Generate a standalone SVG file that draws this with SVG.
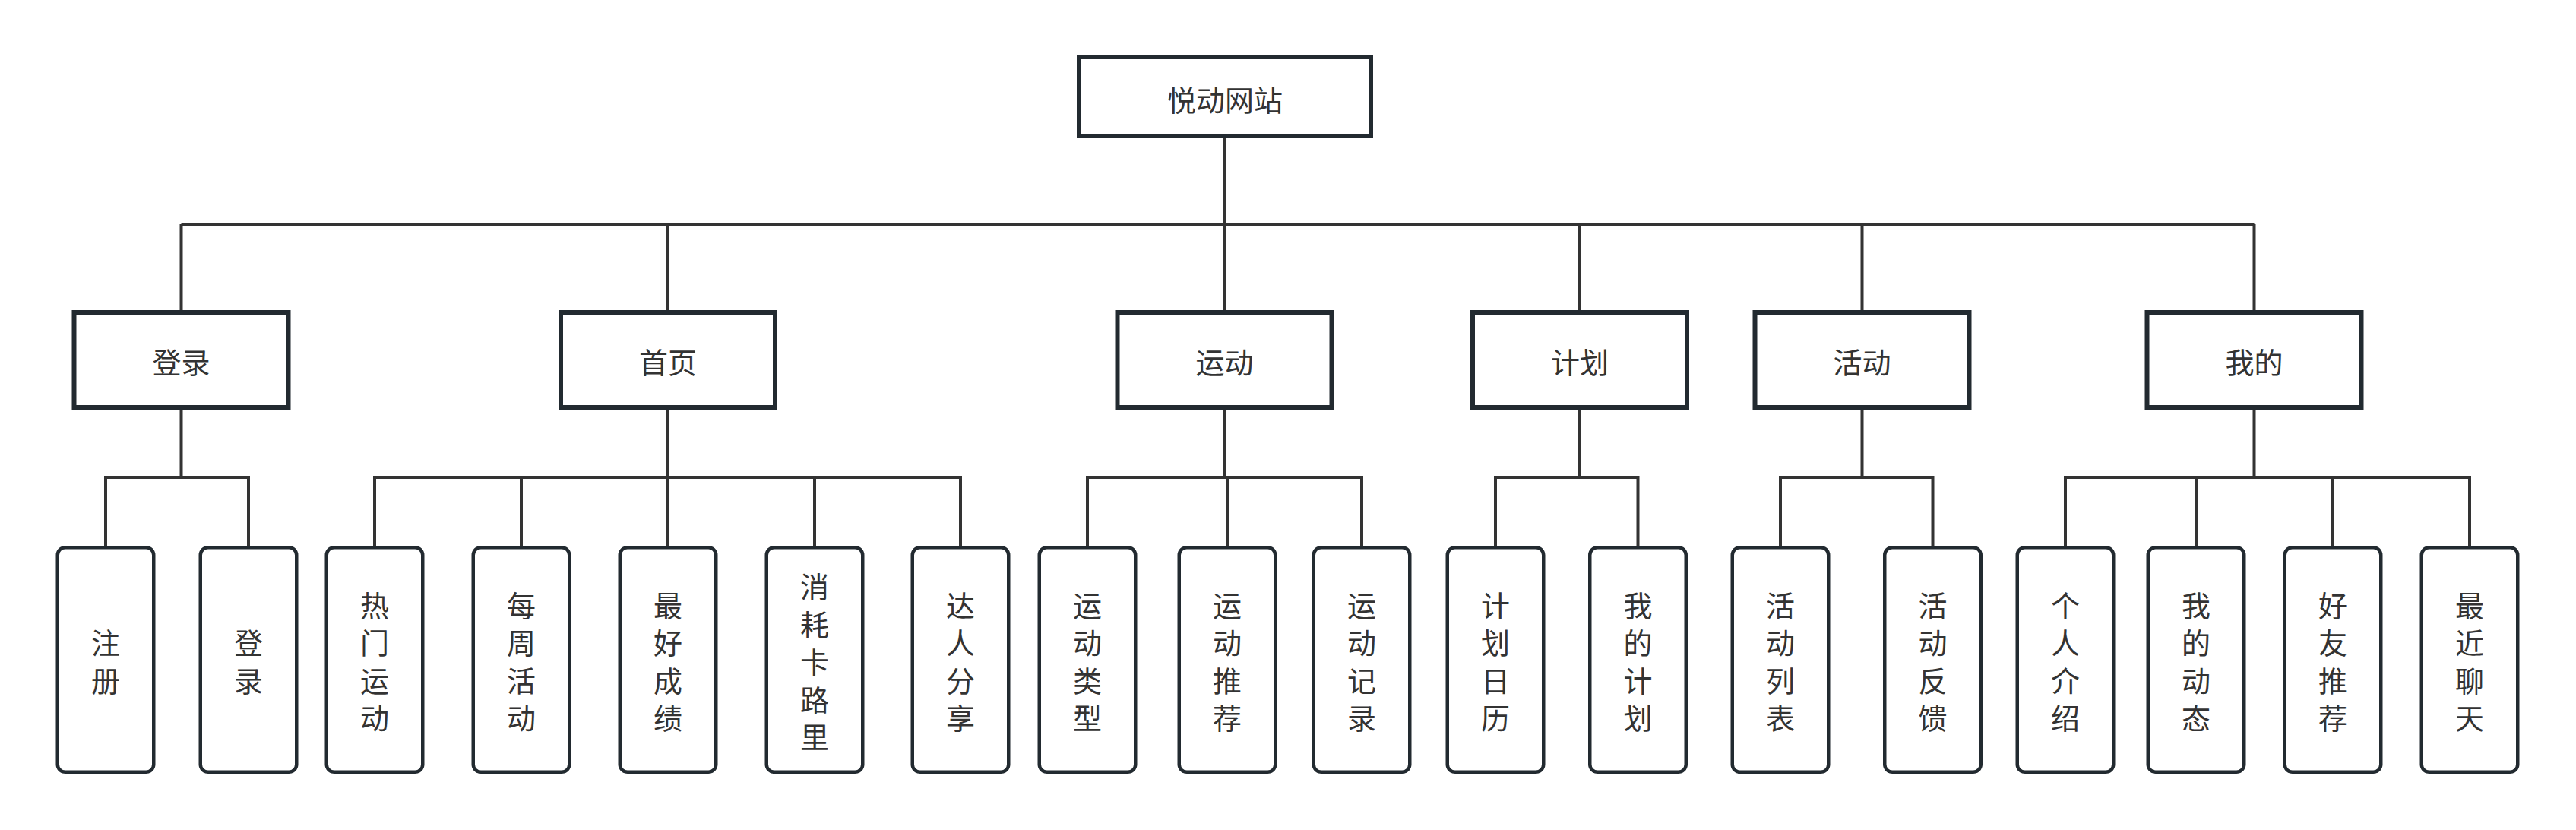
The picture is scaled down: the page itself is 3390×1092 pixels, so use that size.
<svg xmlns="http://www.w3.org/2000/svg" width="3390" height="1092" viewBox="0 0 3390 1092">
<style>
.conn{fill:none;stroke:#333333;stroke-width:4}
.root,.mid{fill:#ffffff;stroke:#222a30;stroke-width:6}
.leaf{fill:#ffffff;stroke:#222a30;stroke-width:4.5}
.t{font-family:"Noto Sans CJK SC","Noto Sans",sans-serif;font-size:38px;fill:#333333;text-anchor:middle}
</style>
<rect x="0" y="0" width="3390" height="1092" fill="#ffffff"/>
<g id="connectors">
<path class="conn" d="M1611.5 182V295M238.5 295H2966.5"/>
<path class="conn" d="M238.5 295V408M879 295V408M1611.5 295V408M2079 295V408M2450.5 295V408M2966.5 295V408"/>
<path class="conn" d="M238.5 539V628M139 718V628H327V718"/>
<path class="conn" d="M879 539V718M493 718V628H1264V718M686 628V718M1072 628V718"/>
<path class="conn" d="M1611.5 539V628M1431 718V628H1792V718M1615 628V718"/>
<path class="conn" d="M2079 539V628M1968 718V628H2155.5V718"/>
<path class="conn" d="M2450.5 539V628M2343 718V628H2543.5V718"/>
<path class="conn" d="M2966.5 539V628M2718 718V628H3250V718M2890 628V718M3070 628V718"/>
</g>
<g id="n-root"><rect class="root" x="1420" y="75" width="384" height="104"/><text class="t" x="1612" y="146">悦动网站</text></g>
<g id="n-denglu"><rect class="mid" x="97.5" y="411" width="282" height="125"/><text class="t" x="238.5" y="491">登录</text></g>
<g id="n-shouye"><rect class="mid" x="738" y="411" width="282" height="125"/><text class="t" x="879" y="491">首页</text></g>
<g id="n-yundong"><rect class="mid" x="1470.5" y="411" width="282" height="125"/><text class="t" x="1611.5" y="491">运动</text></g>
<g id="n-jihua"><rect class="mid" x="1938" y="411" width="282" height="125"/><text class="t" x="2079" y="491">计划</text></g>
<g id="n-huodong"><rect class="mid" x="2309.5" y="411" width="282" height="125"/><text class="t" x="2450.5" y="491">活动</text></g>
<g id="n-wode"><rect class="mid" x="2825.5" y="411" width="282" height="125"/><text class="t" x="2966.5" y="491">我的</text></g>
<g id="l-zhuce"><rect class="leaf" x="75.75" y="720.25" width="126.5" height="295.5" rx="10"/><text class="t"><tspan x="139" y="860">注</tspan><tspan x="139" y="910">册</tspan></text></g>
<g id="l-denglu"><rect class="leaf" x="263.75" y="720.25" width="126.5" height="295.5" rx="10"/><text class="t"><tspan x="327" y="860">登</tspan><tspan x="327" y="910">录</tspan></text></g>
<g id="l-remen"><rect class="leaf" x="429.75" y="720.25" width="126.5" height="295.5" rx="10"/><text class="t"><tspan x="493" y="811">热</tspan><tspan x="493" y="860">门</tspan><tspan x="493" y="910">运</tspan><tspan x="493" y="959">动</tspan></text></g>
<g id="l-meizhou"><rect class="leaf" x="622.75" y="720.25" width="126.5" height="295.5" rx="10"/><text class="t"><tspan x="686" y="811">每</tspan><tspan x="686" y="860">周</tspan><tspan x="686" y="910">活</tspan><tspan x="686" y="959">动</tspan></text></g>
<g id="l-zuihao"><rect class="leaf" x="815.75" y="720.25" width="126.5" height="295.5" rx="10"/><text class="t"><tspan x="879" y="811">最</tspan><tspan x="879" y="860">好</tspan><tspan x="879" y="910">成</tspan><tspan x="879" y="959">绩</tspan></text></g>
<g id="l-xiaohao"><rect class="leaf" x="1008.75" y="720.25" width="126.5" height="295.5" rx="10"/><text class="t"><tspan x="1072" y="786">消</tspan><tspan x="1072" y="835.5">耗</tspan><tspan x="1072" y="885">卡</tspan><tspan x="1072" y="934.5">路</tspan><tspan x="1072" y="984">里</tspan></text></g>
<g id="l-daren"><rect class="leaf" x="1200.75" y="720.25" width="126.5" height="295.5" rx="10"/><text class="t"><tspan x="1264" y="811">达</tspan><tspan x="1264" y="860">人</tspan><tspan x="1264" y="910">分</tspan><tspan x="1264" y="959">享</tspan></text></g>
<g id="l-leixing"><rect class="leaf" x="1367.75" y="720.25" width="126.5" height="295.5" rx="10"/><text class="t"><tspan x="1431" y="811">运</tspan><tspan x="1431" y="860">动</tspan><tspan x="1431" y="910">类</tspan><tspan x="1431" y="959">型</tspan></text></g>
<g id="l-tuijian"><rect class="leaf" x="1551.75" y="720.25" width="126.5" height="295.5" rx="10"/><text class="t"><tspan x="1615" y="811">运</tspan><tspan x="1615" y="860">动</tspan><tspan x="1615" y="910">推</tspan><tspan x="1615" y="959">荐</tspan></text></g>
<g id="l-jilu"><rect class="leaf" x="1728.75" y="720.25" width="126.5" height="295.5" rx="10"/><text class="t"><tspan x="1792" y="811">运</tspan><tspan x="1792" y="860">动</tspan><tspan x="1792" y="910">记</tspan><tspan x="1792" y="959">录</tspan></text></g>
<g id="l-rili"><rect class="leaf" x="1904.75" y="720.25" width="126.5" height="295.5" rx="10"/><text class="t"><tspan x="1968" y="811">计</tspan><tspan x="1968" y="860">划</tspan><tspan x="1968" y="910">日</tspan><tspan x="1968" y="959">历</tspan></text></g>
<g id="l-wodejihua"><rect class="leaf" x="2092.25" y="720.25" width="126.5" height="295.5" rx="10"/><text class="t"><tspan x="2155.5" y="811">我</tspan><tspan x="2155.5" y="860">的</tspan><tspan x="2155.5" y="910">计</tspan><tspan x="2155.5" y="959">划</tspan></text></g>
<g id="l-liebiao"><rect class="leaf" x="2279.75" y="720.25" width="126.5" height="295.5" rx="10"/><text class="t"><tspan x="2343" y="811">活</tspan><tspan x="2343" y="860">动</tspan><tspan x="2343" y="910">列</tspan><tspan x="2343" y="959">表</tspan></text></g>
<g id="l-fankui"><rect class="leaf" x="2480.25" y="720.25" width="126.5" height="295.5" rx="10"/><text class="t"><tspan x="2543.5" y="811">活</tspan><tspan x="2543.5" y="860">动</tspan><tspan x="2543.5" y="910">反</tspan><tspan x="2543.5" y="959">馈</tspan></text></g>
<g id="l-jieshao"><rect class="leaf" x="2654.75" y="720.25" width="126.5" height="295.5" rx="10"/><text class="t"><tspan x="2718" y="811">个</tspan><tspan x="2718" y="860">人</tspan><tspan x="2718" y="910">介</tspan><tspan x="2718" y="959">绍</tspan></text></g>
<g id="l-dongtai"><rect class="leaf" x="2826.75" y="720.25" width="126.5" height="295.5" rx="10"/><text class="t"><tspan x="2890" y="811">我</tspan><tspan x="2890" y="860">的</tspan><tspan x="2890" y="910">动</tspan><tspan x="2890" y="959">态</tspan></text></g>
<g id="l-haoyou"><rect class="leaf" x="3006.75" y="720.25" width="126.5" height="295.5" rx="10"/><text class="t"><tspan x="3070" y="811">好</tspan><tspan x="3070" y="860">友</tspan><tspan x="3070" y="910">推</tspan><tspan x="3070" y="959">荐</tspan></text></g>
<g id="l-liaotian"><rect class="leaf" x="3186.75" y="720.25" width="126.5" height="295.5" rx="10"/><text class="t"><tspan x="3250" y="811">最</tspan><tspan x="3250" y="860">近</tspan><tspan x="3250" y="910">聊</tspan><tspan x="3250" y="959">天</tspan></text></g>
</svg>
